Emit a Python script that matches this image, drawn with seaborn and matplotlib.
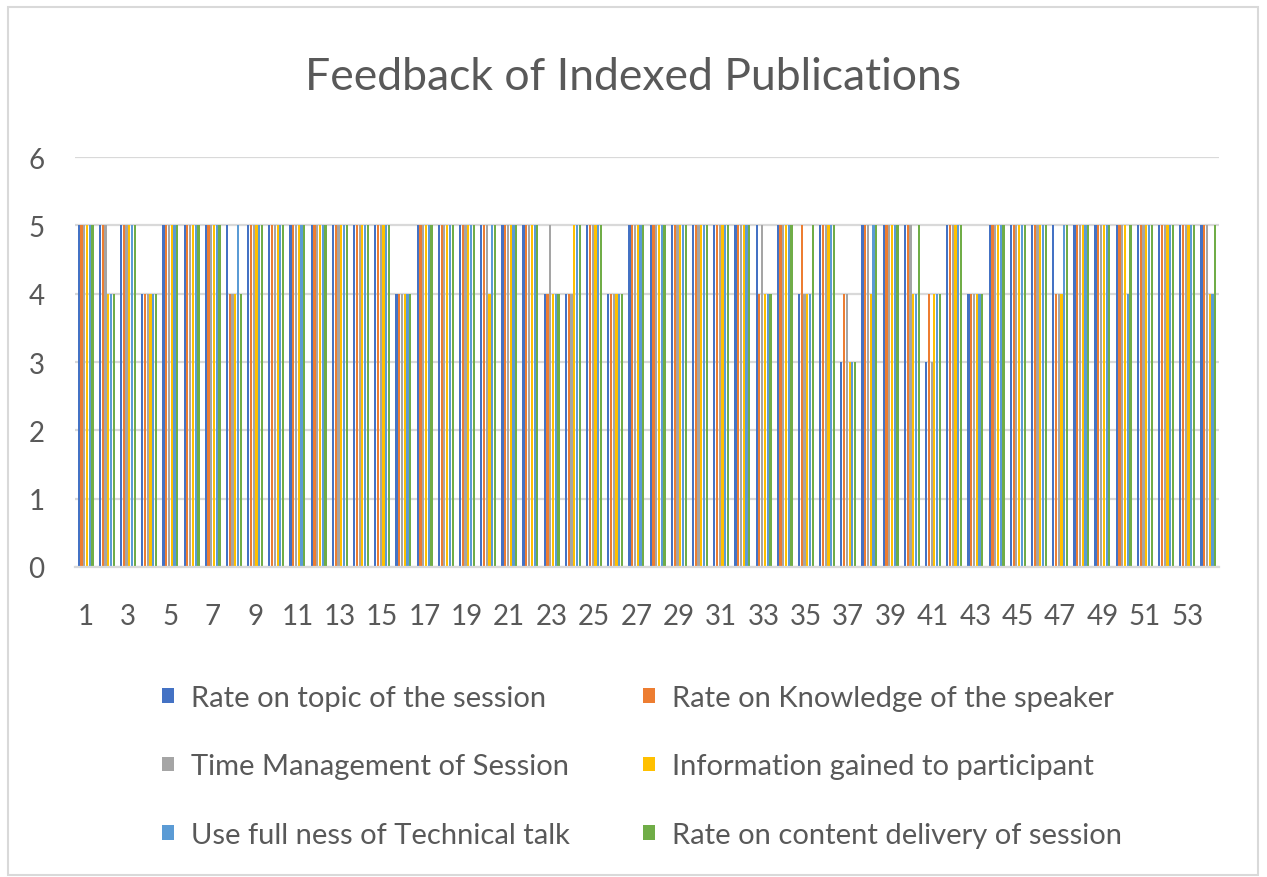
import matplotlib
matplotlib.use("Agg")
import matplotlib.pyplot as plt
from matplotlib.patches import Rectangle
import pandas as pd
import seaborn as sns

# ratings per session (1..54), one list per feedback question
sessions = [str(i) for i in range(1, 55)]

topic = [5, 5, 5, 4, 5, 5, 5, 5, 5, 5,
         5, 5, 5, 5, 5, 4, 5, 5, 5, 5,
         5, 5, 4, 4, 5, 4, 5, 5, 5, 5,
         5, 5, 5, 5, 4, 5, 3, 5, 5, 5,
         3, 5, 4, 5, 5, 5, 5, 5, 5, 5,
         5, 5, 5, 5]
knowledge = [5, 5, 5, 4, 5, 5, 5, 4, 5, 5,
             5, 5, 5, 5, 5, 4, 5, 5, 5, 5,
             5, 5, 4, 4, 5, 4, 5, 5, 5, 5,
             5, 5, 4, 5, 5, 5, 4, 5, 5, 5,
             4, 5, 4, 5, 5, 5, 4, 5, 5, 5,
             5, 5, 5, 5]
time_mgmt = [5, 5, 5, 4, 5, 5, 5, 4, 5, 5,
             5, 5, 5, 5, 5, 4, 5, 5, 5, 5,
             5, 5, 5, 4, 5, 4, 5, 5, 5, 5,
             5, 5, 5, 5, 4, 5, 4, 5, 5, 5,
             3, 5, 4, 5, 5, 5, 4, 5, 5, 5,
             5, 5, 5, 5]
info_gained = [5, 4, 5, 4, 5, 5, 5, 4, 5, 5,
               5, 5, 5, 5, 5, 4, 5, 5, 5, 4,
               5, 5, 4, 5, 5, 4, 5, 5, 5, 5,
               5, 5, 4, 5, 4, 5, 3, 4, 5, 4,
               4, 5, 4, 5, 5, 5, 4, 5, 5, 5,
               5, 5, 5, 4]
usefulness = [5, 4, 5, 4, 5, 5, 5, 5, 5, 5,
              5, 5, 5, 5, 5, 4, 5, 5, 5, 5,
              5, 5, 4, 5, 5, 4, 5, 5, 5, 5,
              5, 5, 4, 5, 4, 5, 3, 5, 5, 4,
              4, 5, 4, 5, 5, 5, 5, 5, 5, 4,
              5, 5, 5, 4]
delivery = [5, 4, 5, 4, 5, 5, 5, 4, 5, 5,
            5, 5, 5, 5, 5, 4, 5, 5, 5, 5,
            5, 5, 4, 5, 5, 4, 5, 5, 5, 5,
            5, 5, 4, 5, 5, 5, 3, 5, 5, 5,
            4, 5, 4, 5, 5, 5, 5, 5, 5, 5,
            5, 5, 5, 5]

criteria = ["Rate on topic of the session", "Rate on Knowledge of the speaker",
            "Time Management of Session", "Information gained to participant",
            "Use full ness of Technical talk", "Rate on content delivery of session"]
colors = ["#4472C4", "#ED7D31", "#A5A5A5", "#FFC000", "#5B9BD5", "#70AD47"]
tick_labels = [s if int(s) % 2 == 1 else "" for s in sessions]

series = [topic, knowledge, time_mgmt, info_gained, usefulness, delivery]
rows = []
for name, vals in zip(criteria, series):
    for s, v in zip(sessions, vals):
        rows.append({"Session": s, "Rating": v, "Criterion": name})
df = pd.DataFrame(rows)

sns.set_style("white")
plt.rcParams["font.family"] = ["Lato", "DejaVu Sans"]

fig = plt.figure(figsize=(12.67, 8.78), dpi=100)
ax = fig.add_axes([75 / 1267, 310 / 878, 1144 / 1267, 410 / 878])

sns.barplot(data=df, x="Session", y="Rating", hue="Criterion", order=sessions,
            hue_order=criteria, palette=colors, saturation=1, width=0.78,
            gap=0.2, errorbar=None, linewidth=0, ax=ax)

ax.set_xlim(-0.5, len(sessions) - 0.5)
ax.set_ylim(0, 6)
ax.set_yticks(range(7))
ax.set_xticks(range(len(sessions)))
ax.set_xticklabels(tick_labels)
ax.set_xlabel("")
ax.set_ylabel("")
ax.yaxis.grid(True, color="#D9D9D9", linewidth=1.6)
ax.set_axisbelow(True)
for side in ["left", "right", "top"]:
    ax.spines[side].set_visible(False)
ax.spines["bottom"].set_color("#D9D9D9")
ax.spines["bottom"].set_linewidth(1.6)
ax.tick_params(axis="both", length=0, labelsize=20, labelcolor="#595959")
ax.tick_params(axis="y", pad=22)
ax.tick_params(axis="x", pad=26)

# legend laid out row by row like the original (2 columns)
handles, labels = ax.get_legend_handles_labels()
ax.get_legend().remove()
order = [0, 2, 4, 1, 3, 5]
fig.legend([handles[i] for i in order], [labels[i] for i in order],
           ncol=2, loc="upper left", bbox_to_anchor=(162 / 1267, 1 - 686 / 878),
           frameon=False, fontsize=21, labelcolor="#595959",
           handlelength=0.4, handleheight=0.4, handletextpad=0.6,
           labelspacing=1.45, columnspacing=2.5, borderpad=0, borderaxespad=0)

fig.text(0.5, 1 - 78 / 878, "Feedback of Indexed Publications", ha="center",
         va="center", fontsize=32, color="#595959")

fig.add_artist(Rectangle((8 / 1267, 2 / 878), 1250 / 1267, 868 / 878,
                         transform=fig.transFigure, fill=False,
                         edgecolor="#D9D9D9", linewidth=1.5))

fig.savefig("out.png", dpi=100)
